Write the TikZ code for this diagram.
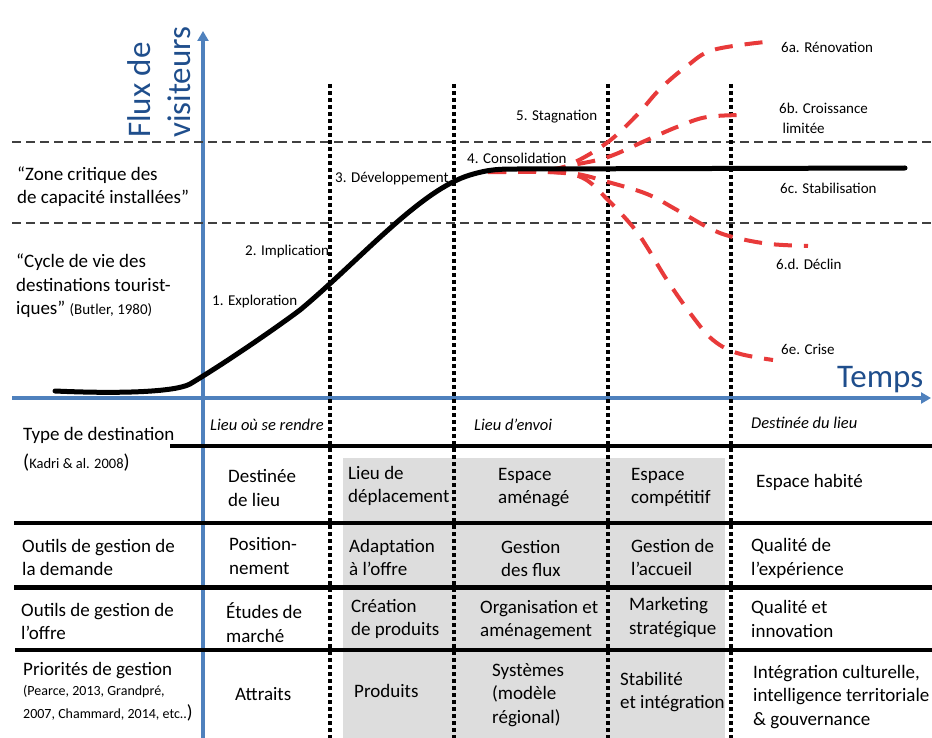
\documentclass[tikz,border=0pt]{standalone}
\usepackage{fontspec}
\setmainfont{Carlito}
\usetikzlibrary{arrows.meta}

\definecolor{axisblue}{RGB}{79,129,189}
\definecolor{titleblue}{RGB}{31,78,140}
\definecolor{curvered}{RGB}{232,58,58}
\definecolor{cellgray}{RGB}{221,221,221}
\definecolor{zonegray}{RGB}{64,64,64}

\tikzset{
  phase/.style={anchor=west, inner sep=0, font=\fontsize{15}{18}\selectfont},
  side/.style={anchor=west, inner sep=0, align=left, font=\fontsize{19}{23.5}\selectfont},
  cell/.style={anchor=west, inner sep=0, align=left, font=\fontsize{19}{23.5}\selectfont},
  ref/.style={anchor=west, inner sep=0, align=left, font=\fontsize{14}{23}\selectfont},
  head/.style={anchor=west, inner sep=0, font=\fontsize{16.5}{18}\selectfont\itshape},
  axislabel/.style={inner sep=0, text=titleblue, font=\fontsize{33}{40}\selectfont},
  axis/.style={axisblue, line width=3.5pt, -{Triangle[width=11pt,length=10pt]}},
  zone/.style={zonegray, line width=1.5pt, dash pattern=on 9pt off 5pt},
  phaseline/.style={black, line width=4pt, dash pattern=on 4pt off 3pt},
  rowline/.style={black, line width=4pt},
  cycle/.style={black, line width=5pt, line cap=round},
  scenario/.style={curvered, line width=4pt, dash pattern=on 18pt off 12pt}
}

\begin{document}
\begin{tikzpicture}[x=1pt, y=-1pt]

	\useasboundingbox (0, 0) rectangle (932, 738);

	% grey cells of the table
	\fill[cellgray] (343, 458) rectangle (725, 738);

	% axes
	\coordinate (ybot) at (203, 738);
	\coordinate (ytop) at (203, 31);
	\coordinate (xleft) at (12, 398);
	\coordinate (xright) at (931, 398);
	\path[axis] (ybot) edge (ytop) (xleft) edge (xright);

	\node (flux) [axislabel, rotate=90, anchor=north west, align=left] at (127, 138) {Flux de\\visiteurs};
	\node (temps) [axislabel, anchor=west] at (837, 380) {Temps};

	% capacity zone
	\coordinate (za) at (12, 142);
	\coordinate (zb) at (932, 142);
	\coordinate (zc) at (12, 223);
	\coordinate (zd) at (932, 223);
	\path[zone] (za) edge (zb) (zc) edge (zd);

	% phase limits
	\foreach \x [count=\i] in {330, 454, 608, 731} {
		\coordinate (p\i top) at (\x, 84);
		\coordinate (p\i bot) at (\x, 738);
		\path[phaseline] (p\i top) edge (p\i bot);
	}

	% table rows
	\coordinate (r0a) at (170, 446);
	\coordinate (r0b) at (932, 446);
	\coordinate (r1a) at (14, 523);
	\coordinate (r1b) at (932, 523);
	\coordinate (r2a) at (14, 587);
	\coordinate (r2b) at (932, 587);
	\coordinate (r3a) at (15, 650);
	\coordinate (r3b) at (932, 650);
	\path[rowline]
	(r0a) edge (r0b)
	(r1a) edge (r1b)
	(r2a) edge[line width=5pt] (r2b)
	(r3a) edge (r3b);

	% scenarios
	\draw[scenario] plot[smooth, tension=0.6] coordinates {(488,172) (545,171) (573,163) (608,142) (637,115) (660,89) (687,66) (713,50) (765,42)};
	\draw[scenario] plot[smooth, tension=0.6] coordinates {(488,172) (545,170) (573,165) (608,157) (647,140) (677,127) (707,117) (747,115)};
	\draw[scenario] plot[smooth, tension=0.6] coordinates {(488,172) (545,172) (577,174) (608,182) (647,194) (677,210) (713,230) (737,238) (770,244) (808,246)};
	\draw[scenario] plot[smooth, tension=0.6] coordinates {(488,172) (550,172) (583,178) (608,200) (633,227) (647,247) (667,280) (693,317) (713,340) (737,353) (773,360)};

	% life cycle
	\draw[cycle] (55, 391) .. controls (120, 394) and (175, 392) .. (190, 384)
		.. controls (230, 360) and (280, 325) .. (300, 310)
		.. controls (360, 260) and (420, 190) .. (470, 175)
		.. controls (490, 169) and (500, 169) .. (520, 169) -- (905, 168);

	% phases
	\node (ph1) [phase] at (212, 302) {1. Exploration};
	\node (ph2) [phase] at (245, 252) {2. Implication};
	\node (ph3) [phase] at (335, 179) {3. Développement};
	\node (ph4) [phase] at (467, 158) {4. Consolidation};
	\node (ph5) [phase] at (516, 117) {5. Stagnation};
	\node (ph6a) [phase] at (781, 47) {6a. Rénovation};
	\node (ph6b) [phase, align=left, font=\fontsize{15}{20}\selectfont] at (779, 118) {6b. Croissance\\\ limitée};
	\node (ph6c) [phase] at (780, 188) {6c. Stabilisation};
	\node (ph6d) [phase] at (776, 264) {6.d. Déclin};
	\node (ph6e) [phase] at (781, 349) {6e. Crise};

	% left notes
	\node (zonetxt) [side] at (17, 186.5) {“Zone critique des\\de capacité installées”};
	\node (butler) [side] at (16, 286) {“Cycle de vie des\\destinations tourist-\\iques” {\fontsize{15}{16}\selectfont(Butler, 1980)}};

	% table, first column
	\node (typedest) [cell] at (23, 435) {Type de destination};
	\node (kadri) [cell, font=\fontsize{14.5}{16}\selectfont] at (23, 463) {{\fontsize{20}{20}\selectfont(}Kadri \& al. 2008{\fontsize{20}{20}\selectfont)}};
	\node (demande) [cell] at (22, 557.5) {Outils de gestion de\\la demande};
	\node (offre) [cell] at (21, 621.5) {Outils de gestion de\\l’offre};
	\node (priorite) [cell] at (23, 671) {Priorités de gestion};
	\node (pearce) [ref] at (23, 703) {(Pearce, 2013, Grandpré,\\2007, Chammard, 2014, etc..{\fontsize{19}{19}\selectfont)}};

	% header row
	\node (h1) [head] at (210, 425) {Lieu où se rendre};
	\node (h3) [head] at (474, 425) {Lieu d’envoi};
	\node (h5) [head] at (751, 423) {Destinée du lieu};

	% column 1
	\node (c1a) [cell] at (228, 488) {Destinée\\de lieu};
	\node (c1b) [cell] at (229, 556) {Position-\\nement};
	\node (c1c) [cell] at (226, 622.5) {Études de\\marché};
	\node (c1d) [cell] at (235, 694) {Attraits};

	% column 2
	\node (c2a) [cell] at (348, 486) {Lieu de\\déplacement};
	\node (c2b) [cell] at (349, 557.5) {Adaptation\\à l’offre};
	\node (c2c) [cell] at (351, 619) {Création\\de produits};
	\node (c2d) [cell] at (354, 691) {Produits};

	% column 3
	\node (c3a) [cell] at (498, 487.5) {Espace\\aménagé};
	\node (c3b) [cell] at (501, 558.5) {Gestion\\des flux};
	\node (c3c) [cell] at (480, 620) {Organisation et\\aménagement};
	\node (c3d) [cell] at (492, 695) {Systèmes\\(modèle\\régional)};

	% column 4
	\node (c4a) [cell] at (631, 487.5) {Espace\\compétitif};
	\node (c4b) [cell] at (631, 557.5) {Gestion de\\ l’accueil};
	\node (c4c) [cell] at (629, 617.5) {Marketing\\stratégique};
	\node (c4d) [cell] at (620, 692) {Stabilité\\et intégration};

	% column 5
	\node (c5a) [cell] at (756, 482) {Espace habité};
	\node (c5b) [cell] at (751, 558.5) {Qualité de\\l’expérience};
	\node (c5c) [cell] at (751, 619) {Qualité et\\innovation};
	\node (c5d) [cell] at (753, 697) {Intégration culturelle,\\intelligence territoriale\\\&~gouvernance};

\end{tikzpicture}
\end{document}
